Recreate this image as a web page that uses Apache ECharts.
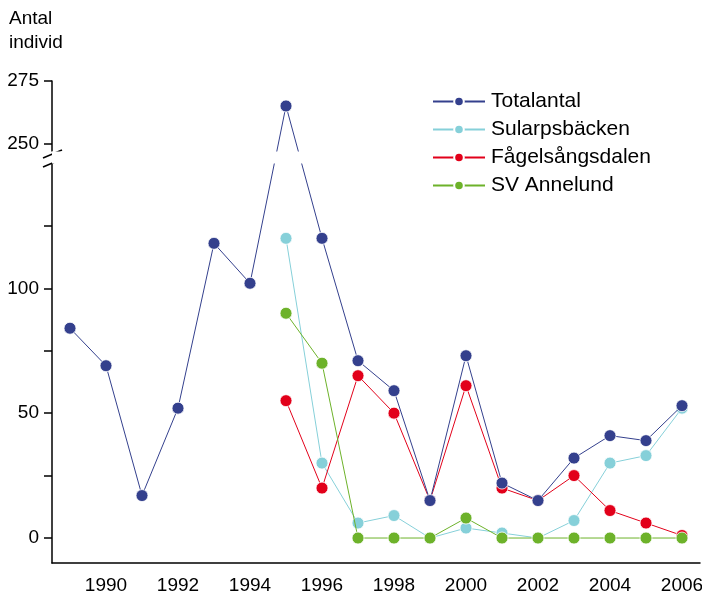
<!DOCTYPE html>
<html>
<head>
<meta charset="utf-8">
<script src="https://cdn.jsdelivr.net/npm/echarts@6/dist/echarts.min.js"></script>
<style>
  html, body { margin: 0; padding: 0; background: #fff; }
  #chart { width: 702px; height: 598px; }
</style>
</head>
<body>
<div id="chart"></div>
<script>
const years = ['1989', '1990', '1991', '1992', '1993', '1994', '1995', '1996', '1997',
  '1998', '1999', '2000', '2001', '2002', '2003', '2004', '2005', '2006'];

const totalantal = [84, 69, 17, 52, 118, 102, 265, 120, 71, 59, 15, 73, 22, 15, 32, 41, 39, 53];
const sularpsbacken = [null, null, null, null, null, null, 120, 30, 6, 9, 0, 4, 2, 0, 7, 30, 33, 52];
const fagelsangsdalen = [null, null, null, null, null, null, 55, 20, 65, 50, 15, 61, 20, 15, 25, 11, 6, 1];
const svAnnelund = [null, null, null, null, null, null, 90, 70, 0, 0, 0, 8, 0, 0, 0, 0, 0, 0];

const yTicks = [0, 25, 50, 75, 100, 125, 250, 275];
const yLabels = [0, 50, 100, 250, 275];

const chart = echarts.init(document.getElementById('chart'));

const lineSeries = (name, data, color, z) => ({
  name: name,
  type: 'line',
  data: data,
  z: z,
  symbol: 'circle',
  symbolSize: 12,
  connectNulls: false,
  lineStyle: { color: color, width: 1 },
  itemStyle: { color: color, borderColor: '#fff', borderWidth: 0.8 },
  emphasis: { disabled: true }
});

const options = {
  animation: false,
  textStyle: { fontFamily: 'Liberation Sans, Arial, sans-serif' },
  title: {
    text: 'Antal\nindivid',
    left: 4,
    top: 2,
    textStyle: { fontSize: 19, fontWeight: 'normal', color: '#000', lineHeight: 24 }
  },
  legend: {
    orient: 'vertical',
    left: 432,
    top: 91,
    padding: 0,
    z: 100,
    itemWidth: 52,
    itemHeight: 12,
    itemGap: 7,
    data: ['Totalantal', 'Sularpsbäcken', 'Fågelsångsdalen', 'SV Annelund'],
    textStyle: { fontSize: 21, color: '#000', padding: [0, 0, 0, 1] }
  },
  grid: { left: 52, right: 2, top: 81, bottom: 35, containLabel: false, outerBoundsMode: 'none' },
  xAxis: {
    type: 'category',
    data: years,
    boundaryGap: true,
    axisLine: { onZero: false, lineStyle: { color: '#000', width: 1.5 } },
    axisTick: { alignWithLabel: true, interval: 0, length: 7, lineStyle: { color: '#000', width: 1.5 } },
    axisLabel: {
      interval: 0,
      margin: 13,
      fontSize: 19,
      color: '#000',
      formatter: (v) => (Number(v) % 2 === 0 ? v : '')
    },
    splitLine: { show: false }
  },
  yAxis: {
    type: 'value',
    min: -10,
    max: 275,
    breaks: [{ start: 150, end: 247, gap: 5 }],
    breakArea: {
      show: true,
      zigzagAmplitude: 0,
      itemStyle: { color: '#fff', borderColor: '#fff', borderWidth: 0, opacity: 1 }
    },
    axisLine: { show: true, lineStyle: { color: '#000', width: 1.5 } },
    axisTick: { show: true, length: 8, customValues: yTicks, lineStyle: { color: '#000', width: 1.5 } },
    axisLabel: { customValues: yLabels, margin: 13, fontSize: 19, color: '#000' },
    splitLine: { show: false }
  },
  graphic: [
    { type: 'line', shape: { x1: 43, y1: 158, x2: 62, y2: 150 }, style: { stroke: '#000', lineWidth: 1.5 }, z: 100 },
    { type: 'line', shape: { x1: 43, y1: 167, x2: 62, y2: 159 }, style: { stroke: '#000', lineWidth: 1.5 }, z: 100 }
  ],
  series: [
    lineSeries('Totalantal', totalantal, '#34408d', 5),
    lineSeries('Sularpsbäcken', sularpsbacken, '#86d0d9', 2),
    lineSeries('Fågelsångsdalen', fagelsangsdalen, '#e2001a', 3),
    lineSeries('SV Annelund', svAnnelund, '#6db22a', 4)
  ]
};

chart.setOption(options);
</script>
</body>
</html>
